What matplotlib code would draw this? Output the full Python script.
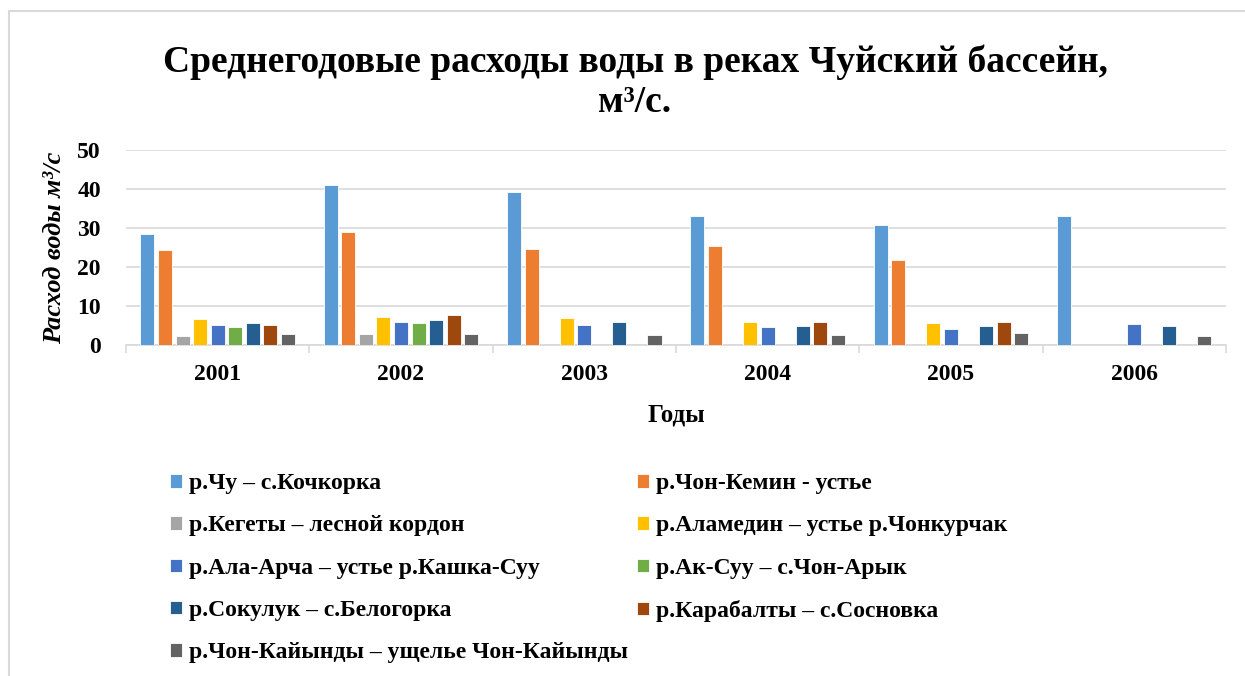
import matplotlib.pyplot as plt
import matplotlib.patches as mpatches
import numpy as np

plt.rcParams['font.family'] = ['Liberation Serif', 'DejaVu Serif']
plt.rcParams['font.weight'] = 'bold'

years = ['2001', '2002', '2003', '2004', '2005', '2006']

series_names = [
    'р.Чу – с.Кочкорка',
    'р.Чон-Кемин - устье',
    'р.Кегеты – лесной кордон',
    'р.Аламедин – устье р.Чонкурчак',
    'р.Ала-Арча – устье р.Кашка-Суу',
    'р.Ак-Суу – с.Чон-Арык',
    'р.Сокулук – с.Белогорка',
    'р.Карабалты – с.Сосновка',
    'р.Чон-Кайынды – ущелье Чон-Кайынды',
]

nan = np.nan
chu = [28.4, 40.9, 39.2, 33.2, 30.8, 33.2]
chon_kemin = [24.3, 29.0, 24.6, 25.5, 21.8, nan]
kegety = [2.2, 2.8, nan, nan, nan, nan]
alamedin = [6.8, 7.3, 6.9, 6.0, 5.7, nan]
ala_archa = [5.1, 5.9, 5.1, 4.6, 4.2, 5.3]
ak_suu = [4.5, 5.7, nan, nan, nan, nan]
sokuluk = [5.7, 6.3, 5.9, 4.8, 4.8, 5.0]
karabalty = [5.1, 7.7, nan, 6.0, 6.0, nan]
chon_kaiyndy = [2.9, 2.8, 2.5, 2.5, 3.0, 2.4]

values = [chu, chon_kemin, kegety, alamedin, ala_archa, ak_suu,
          sokuluk, karabalty, chon_kaiyndy]

colors = ['#5B9BD5', '#ED7D31', '#A5A5A5', '#FFC000', '#4472C4',
          '#70AD47', '#255E91', '#9E480E', '#636363']

fig = plt.figure(figsize=(12.45, 6.76), dpi=100)
ax = fig.add_axes([0.1012, 0.4896, 0.8835, 0.2885])

x = np.arange(len(years))
step = 0.0957
bar_w = step * 0.8
handles = []
for i, (vals, col, name) in enumerate(zip(values, colors, series_names)):
    off = (i - 4) * step
    b = ax.bar(x + off, vals, width=bar_w, color=col, edgecolor='white',
               linewidth=0.6, label=name, zorder=3)
    handles.append(b)

ax.set_xlim(-0.5, len(years) - 0.5)
ax.set_ylim(0, 50)
ax.set_yticks([0, 10, 20, 30, 40, 50])
ax.yaxis.grid(True, color='#D9D9D9', linewidth=1.2, zorder=0)
ax.tick_params(axis='y', length=0, pad=18, labelsize=17)

# category ticks on the boundaries, labels centred
ax.set_xticks(np.arange(-0.5, len(years)), minor=False)
ax.set_xticklabels([])
ax.set_xticks(x, minor=True)
ax.set_xticklabels(years, minor=True, fontsize=17, fontweight='bold')
ax.tick_params(axis='x', which='major', length=6, color='#D9D9D9', width=1.2)
ax.tick_params(axis='x', which='minor', length=0, pad=14)

for s in ['top', 'right', 'left']:
    ax.spines[s].set_visible(False)
ax.spines['bottom'].set_color('#D9D9D9')
ax.spines['bottom'].set_linewidth(1.2)

ax.set_xlabel('Годы', fontsize=18, fontweight='bold', labelpad=13)
ax.set_ylabel('Расход воды м³/с', fontsize=19, fontweight='bold',
              style='italic', labelpad=8)

fig.text(0.51, 0.878, 'Среднегодовые расходы воды в реках Чуйский бассейн,\nм³/с.',
         ha='center', va='center', fontsize=27, fontweight='bold',
         linespacing=1.2)

order = [0, 2, 4, 6, 8, 1, 3, 5, 7]
leg = fig.legend([handles[i] for i in order], [series_names[i] for i in order],
                 ncol=2, loc='upper left', bbox_to_anchor=(0.129, 0.314),
                 frameon=False, fontsize=17, handlelength=0.5,
                 handleheight=0.5, handletextpad=0.3, labelspacing=0.9,
                 columnspacing=0.4, borderaxespad=0)

# outer chart border
fig.patches.append(mpatches.Rectangle((9 / 1245, -0.05), 1.05, 1 - 11 / 676 + 0.05,
                                      transform=fig.transFigure, fill=False,
                                      edgecolor='#D9D9D9', linewidth=1.5))

fig.savefig('out.png', dpi=100)
